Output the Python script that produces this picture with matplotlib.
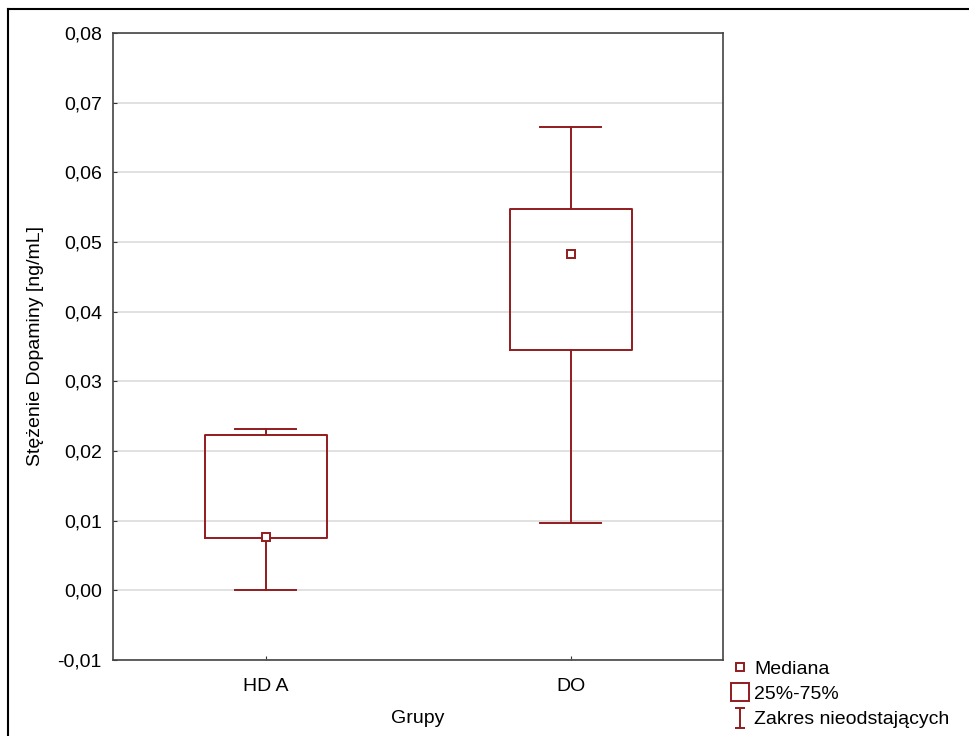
import matplotlib.pyplot as plt
from matplotlib.lines import Line2D
from matplotlib.path import Path

# data
groups = ['HD A', 'DO']
q1 = [0.0075, 0.0345]
q3 = [0.0223, 0.0548]
medians = [0.0077, 0.0483]
whisk_lo = [0.0, 0.0097]
whisk_hi = [0.0231, 0.0665]
y_ticks = [-0.01, 0.0, 0.01, 0.02, 0.03, 0.04, 0.05, 0.06, 0.07, 0.08]

red = '#921c1f'
plt.rcParams['font.family'] = ['Liberation Sans', 'DejaVu Sans']

fig = plt.figure(figsize=(9.69, 7.36), dpi=100)
ax = fig.add_axes([113 / 969, 1 - 660 / 736, 610 / 969, 627 / 736])

stats = []
for i, g in enumerate(groups):
    stats.append(dict(label=g, med=medians[i], q1=q1[i], q3=q3[i],
                      whislo=whisk_lo[i], whishi=whisk_hi[i], fliers=[]))

ax.bxp(stats, positions=range(len(groups)), widths=0.4, capwidths=0.2,
       showfliers=False, patch_artist=False,
       boxprops=dict(color=red, lw=1.4),
       whiskerprops=dict(color=red, lw=1.4),
       capprops=dict(color=red, lw=1.4),
       medianprops=dict(visible=False), zorder=3)
ax.plot(range(len(groups)), medians, 's', ms=6, mfc='white', mec=red,
        mew=1.4, ls='none', zorder=4)

ax.set_xlim(-0.5, 1.5)
ax.set_ylim(-0.01, 0.08)
ax.set_yticks(y_ticks)
ax.set_yticklabels([f'{v:.2f}'.replace('.', ',') for v in y_ticks])
ax.set_xticks(range(len(groups)))
ax.set_xticklabels(groups)
ax.grid(axis='y', color='#dcdcdc', lw=1.2, zorder=0)
ax.set_axisbelow(True)
ax.tick_params(direction='in', length=3, labelsize=14, color='#333333')
ax.tick_params(axis='y', pad=8)
ax.tick_params(axis='x', pad=13)
for s in ax.spines.values():
    s.set_color('#444444')
    s.set_linewidth(1.2)

ax.set_xlabel('Grupy', fontsize=14, labelpad=11)
ax.set_ylabel('Stężenie Dopaminy [ng/mL]', fontsize=14, labelpad=10)

# outer frame (top and left edges)
fig.add_artist(Line2D([8 / 969, 1], [1 - 9 / 736, 1 - 9 / 736], color='black', lw=1.5,
                      transform=fig.transFigure))
fig.add_artist(Line2D([8 / 969, 8 / 969], [0, 1 - 9 / 736], color='black', lw=1.5,
                      transform=fig.transFigure))

# legend
ibeam = Path([(-0.5, -1), (0.5, -1), (0, -1), (0, 1), (-0.5, 1), (0.5, 1)],
             [Path.MOVETO, Path.LINETO, Path.MOVETO, Path.LINETO, Path.MOVETO, Path.LINETO])
handles = [
    Line2D([], [], marker='s', ms=6, mfc='white', mec=red, mew=1.4, ls='none'),
    Line2D([], [], marker='s', ms=13, mfc='white', mec=red, mew=1.4, ls='none'),
    Line2D([], [], marker=ibeam, ms=15, mec=red, mew=1.4, ls='none'),
]
labels = ['Mediana', '25%-75%', 'Zakres nieodstających']
fig.legend(handles, labels, loc='upper left', bbox_to_anchor=(732 / 969, 1 - 660 / 736),
           frameon=False, fontsize=14, handlelength=0.8, handletextpad=0.35,
           labelspacing=0.4, borderpad=0, borderaxespad=0)

fig.savefig('out.png', dpi=100)
